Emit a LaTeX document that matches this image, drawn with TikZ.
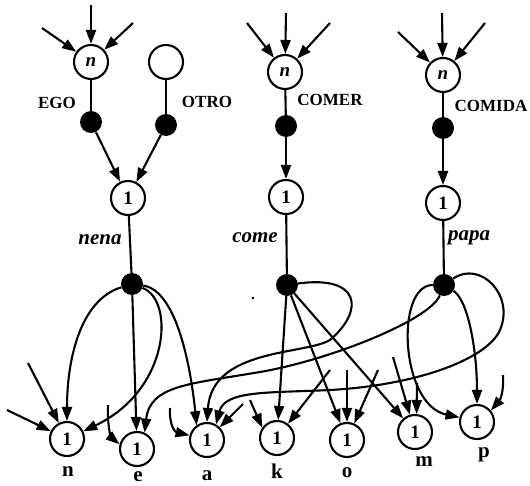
\documentclass[tikz,border=0pt]{standalone}
\usepackage{fontspec}
\setmainfont{Liberation Serif}
\usetikzlibrary{arrows.meta}
\begin{document}
\begin{tikzpicture}[x=1pt,y=-1pt,
  wire/.style={line width=2.1pt},
  arr/.style={wire,-{Triangle[length=14pt,width=10pt]}},
  unit/.style={circle,draw,line width=2.1pt,minimum size=34pt,inner sep=0pt,
    font=\fontsize{19}{19}\selectfont\bfseries},
  multi/.style={unit,font=\fontsize{19}{19}\selectfont\bfseries\itshape},
  dot/.style={circle,fill=black,minimum size=22pt,inner sep=0pt},
  tag/.style={font=\fontsize{17}{17}\selectfont\bfseries},
  word/.style={font=\fontsize{21}{21}\selectfont\bfseries\itshape},
  letter/.style={font=\fontsize{21}{21}\selectfont\bfseries}
]
\useasboundingbox (0,0) rectangle (530,486);

% ---- concept layer ----
\node[multi] (n1) at (91,62) {n};
\node[unit]  (x0) at (166,62) {};
\node[dot]   (d1) at (91,122) {};
\node[dot]   (d2) at (166,125) {};
\node[unit]  (u1) at (128,198) {1};
\node[dot]   (dn) at (132,284) {};

\node[multi] (n2) at (285,72) {n};
\node[dot]   (d3) at (286,126) {};
\node[unit]  (u2) at (286,197) {1};
\node[dot]   (dc) at (287,285) {};

\node[multi] (n3) at (443,75) {n};
\node[dot]   (d4) at (443,128) {};
\node[unit]  (u3) at (443,203) {1};
\node[dot]   (dp) at (444,285) {};

% ---- labels ----
\node[tag] (lego) at (57,103) {EGO};
\node[tag] (lotro) at (207,102) {OTRO};
\node[tag] (lcomer) at (330,100) {COMER};
\node[tag] (lcomida) at (491,106) {COMIDA};
\node[word] (lnena) at (100,240) {nena};
\node[word] (lcome) at (255,238) {come};
\node[word] (lpapa) at (469,238) {papa};
\node[font=\fontsize{15}{15}\selectfont\bfseries] (stray) at (253,298) {.};

% ---- letter layer ----
\node[unit] (bn) at (67,439) {1};
\node[unit] (be) at (137,449) {1};
\node[unit] (ba) at (207,440) {1};
\node[unit] (bk) at (277,438) {1};
\node[unit] (bo) at (347,440) {1};
\node[unit] (bm) at (415,432) {1};
\node[unit] (bp) at (477,422) {1};

\node[letter] (ln) at (68,472) {n};
\node[letter] (le) at (138,477) {e};
\node[letter] (la) at (207,476) {a};
\node[letter] (lk) at (277,471) {k};
\node[letter] (lo) at (347,473) {o};
\node[letter] (lm) at (424,462) {m};
\node[letter] (lp) at (484,455) {p};

% ---- free tails of incoming arrows ----
\coordinate (a1) at (91,5);   \coordinate (a2) at (42,28);  \coordinate (a3) at (133,23);
\coordinate (b1) at (286,13); \coordinate (b2) at (247,23); \coordinate (b3) at (330,23);
\coordinate (c1) at (442,13); \coordinate (c2) at (398,32); \coordinate (c3) at (485,23);
\coordinate (sn1) at (7,410);  \coordinate (sn2) at (28,363);
\coordinate (se) at (108,405);
\coordinate (sa1) at (170,408); \coordinate (sa2) at (243,404);
\coordinate (sk1) at (250,400); \coordinate (sk2) at (330,370);
\coordinate (so1) at (347,370); \coordinate (so2) at (378,370);
\coordinate (sm1) at (393,357); \coordinate (sm2) at (417,383);
\coordinate (sp) at (503,375);

% ---- top connectors ----
\foreach \s in {a1,a2,a3} \draw[arr] (\s) -- (n1);
\foreach \s in {b1,b2,b3} \draw[arr] (\s) -- (n2);
\foreach \s in {c1,c2,c3} \draw[arr] (\s) -- (n3);
\draw[wire] (n1) -- (d1);
\draw[wire] (x0) -- (d2);
\draw[arr] (d1) -- (u1);
\draw[arr] (d2) -- (u1);
\draw[wire] (u1) -- (dn);
\draw[wire] (n2) -- (d3);
\draw[arr] (d3) -- (u2);
\draw[wire] (u2) -- (dc);
\draw[wire] (n3) -- (d4);
\draw[arr] (d4) -- (u3);
\draw[wire] (u3) -- (dp);

% ---- nena ----
\draw[arr] (dn) .. controls (80,300) and (67,360) .. (bn);
\draw[arr] (dn) -- (be);
\draw[arr] (dn) .. controls (175,300) and (170,390) .. (bn);
\draw[arr] (dn) .. controls (175,290) and (190,360) .. (ba.125);

% ---- come ----
\draw[arr] (dc) -- (bk);
\draw[arr] (dc) -- (bo);
\draw[arr] (dc) -- (bm);
\draw[arr] (dc) .. controls (360,275) and (365,310) .. (330,340)
  .. controls (305,355) and (212,348) .. (ba.north);

% ---- papa ----
\draw[arr] (dp) .. controls (468,300) and (477,350) .. (bp);
\draw[arr] (dp) .. controls (395,285) and (400,405) .. (bp.165);
\draw[arr] (dp) .. controls (430,320) and (330,360) .. (260,372)
  .. controls (190,384) and (150,385) .. (be.65);
\draw[arr] (dp) .. controls (480,260) and (515,295) .. (500,330)
  .. controls (488,358) and (420,385) .. (330,390)
  .. controls (270,393) and (225,390) .. (ba.60);

% ---- incoming stubs at the letter layer ----
\draw[arr] (sn1) -- (bn);
\draw[arr] (sn2) -- (bn);
\draw[arr] (se) .. controls (107,428) and (112,438) .. (be.165);
\draw[arr] (sa1) .. controls (169,425) and (175,432) .. (ba.165);
\draw[arr] (sa2) -- (ba);
\draw[arr] (sk1) -- (bk.145);
\draw[arr] (sk2) -- (bk);
\draw[arr] (so1) -- (bo);
\draw[arr] (so2) -- (bo);
\draw[arr] (sm1) -- (bm);
\draw[arr] (sm2) -- (bm.85);
\draw[arr] (sp) .. controls (504,392) and (500,400) .. (bp.40);
\end{tikzpicture}
\end{document}
